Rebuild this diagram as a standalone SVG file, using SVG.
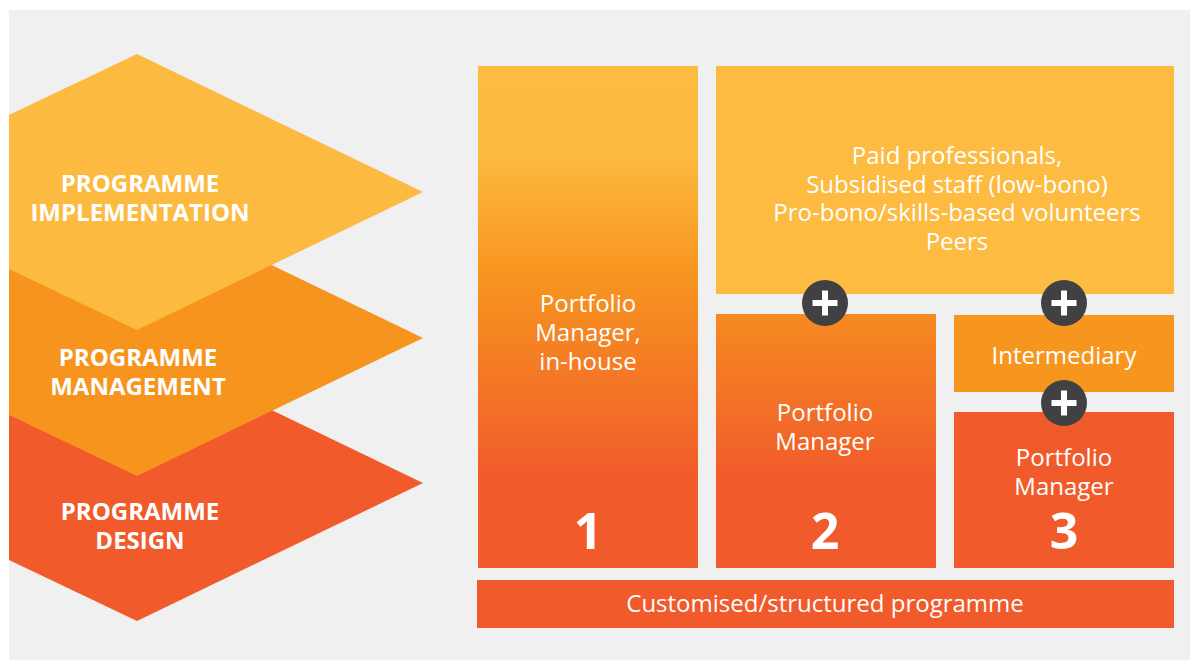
<svg xmlns="http://www.w3.org/2000/svg" width="1190" height="660" viewBox="0 0 1190 660">
<defs>
<linearGradient id="g" gradientUnits="userSpaceOnUse" x1="0" y1="66" x2="0" y2="568">
<stop offset="0" stop-color="#FDBB42"/>
<stop offset="0.17" stop-color="#FDBA40"/>
<stop offset="0.41" stop-color="#F7961F"/>
<stop offset="0.83" stop-color="#F15A2B"/>
<stop offset="1" stop-color="#F15A2B"/>
</linearGradient>
<style>
.lab{font-family:"Open Sans","Liberation Sans",sans-serif;font-size:24px;fill:#ffffff;text-anchor:middle}
.hdr{font-family:"Open Sans","Liberation Sans",sans-serif;font-size:24px;font-weight:bold;fill:#ffffff;text-anchor:middle}
.num{font-family:"Open Sans","Liberation Sans",sans-serif;font-size:50px;font-weight:bold;fill:#ffffff;text-anchor:middle}
.plus circle{fill:#414042}
.plus path{stroke:#ffffff;stroke-width:6;fill:none}
</style>
</defs>
<rect x="0" y="0" width="1190" height="660" fill="#ffffff"/>
<rect x="9" y="10" width="1181" height="650" fill="#F0F0F0"/>

<g id="design">
<polygon points="9,406 137,345 423,483 137,621 9,560" fill="#F15A2B"/>
<text class="hdr" x="140" y="520">PROGRAMME</text>
<text class="hdr" x="140" y="549">DESIGN</text>
</g>
<g id="management">
<polygon points="9,261 137,200 423,338 137,476 9,415" fill="#F7941D"/>
<text class="hdr" x="138" y="366">PROGRAMME</text>
<text class="hdr" x="138" y="395">MANAGEMENT</text>
</g>
<g id="implementation">
<polygon points="9,115 137,54 423,192 137,330 9,269" fill="#FDBA40"/>
<text class="hdr" x="140" y="192">PROGRAMME</text>
<text class="hdr" x="140" y="221">IMPLEMENTATION</text>
</g>

<g id="model1">
<rect x="478" y="66" width="220" height="502" fill="url(#g)"/>
<text class="lab" x="588" y="312">Portfolio</text>
<text class="lab" x="588" y="341">Manager,</text>
<text class="lab" x="588" y="370">in-house</text>
<text class="num" x="588" y="549">1</text>
</g>

<g id="resources">
<rect x="716" y="66" width="458" height="228" fill="#FDBB42"/>
<text class="lab" x="957" y="164">Paid professionals,</text>
<text class="lab" x="957" y="193">Subsidised staff (low-bono)</text>
<text class="lab" x="957" y="221">Pro-bono/skills-based volunteers</text>
<text class="lab" x="957" y="250">Peers</text>
</g>

<g id="model2">
<rect x="716" y="314" width="220" height="254" fill="url(#g)"/>
<text class="lab" x="825" y="421">Portfolio</text>
<text class="lab" x="825" y="450">Manager</text>
<text class="num" x="825" y="549">2</text>
</g>

<g id="intermediary">
<rect x="954" y="315" width="220" height="77" fill="#F7961F"/>
<text class="lab" x="1064" y="364">Intermediary</text>
</g>

<g id="model3">
<rect x="954" y="412" width="220" height="156" fill="#F15A2B"/>
<text class="lab" x="1064" y="466">Portfolio</text>
<text class="lab" x="1064" y="495">Manager</text>
<text class="num" x="1064" y="549">3</text>
</g>

<g id="programme">
<rect x="477" y="580" width="697" height="48" fill="#F15A2B"/>
<text class="lab" x="825" y="612">Customised/structured programme</text>
</g>

<g id="connectors">
<g class="plus"><circle cx="825" cy="303" r="23"/><path d="M812.5,303H837.5M825,290.5V315.5"/></g>
<g class="plus"><circle cx="1064" cy="303" r="23"/><path d="M1051.5,303H1076.5M1064,290.5V315.5"/></g>
<g class="plus"><circle cx="1064" cy="403" r="23"/><path d="M1051.5,403H1076.5M1064,390.5V415.5"/></g>
</g>
</svg>
